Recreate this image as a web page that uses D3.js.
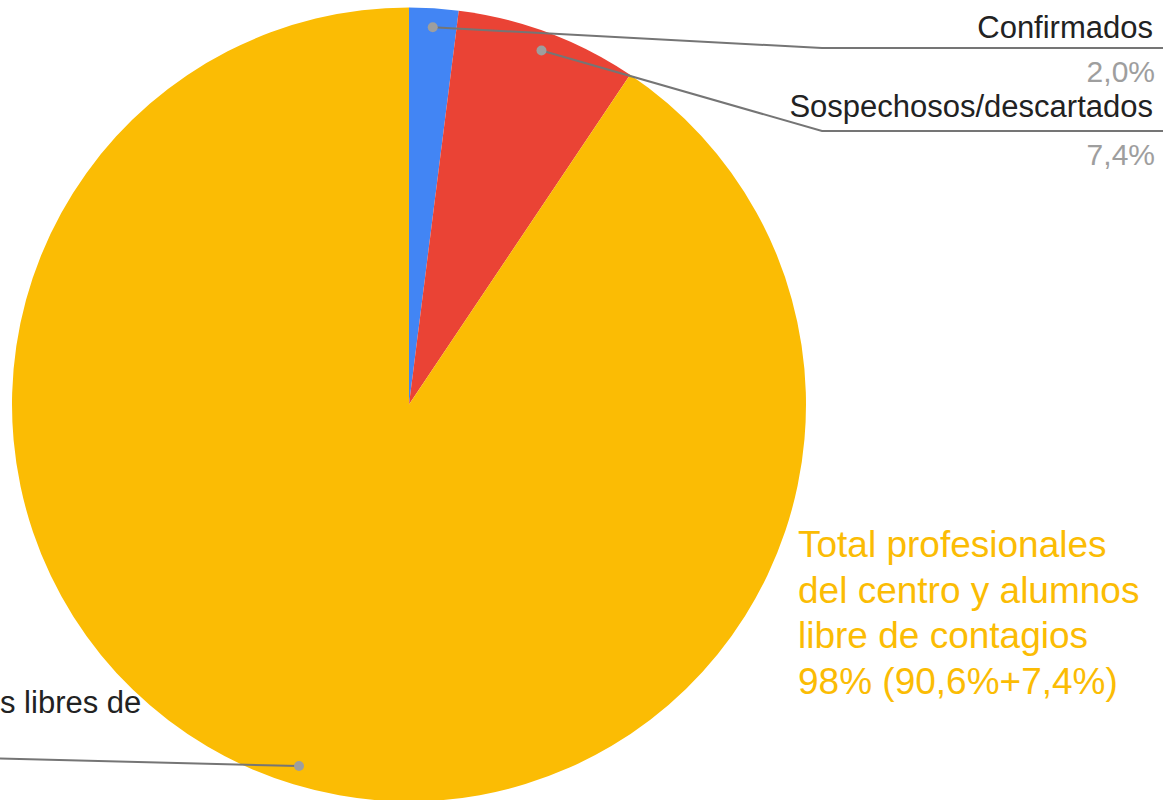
<!DOCTYPE html>
<html>
<head>
<meta charset="utf-8">
<script src="https://cdn.jsdelivr.net/npm/d3@7"></script>
<style>
  html, body { margin: 0; padding: 0; background: #fff; overflow: hidden; }
  svg { display: block; font-family: Arial, "Liberation Sans", sans-serif; }
</style>
</head>
<body>
<div id="chart"></div>
<script>
const labels = ["Confirmados", "Sospechosos/descartados", "Profesionales libres de contagio"];
const values = [2.0, 7.4, 90.6];
const valueLabels = ["2,0%", "7,4%", "90,6%"];
const colors = ["#4285f4", "#ea4335", "#fbbc04"];
const noteLines = ["Total profesionales", "del centro y alumnos", "libre de contagios", "98% (90,6%+7,4%)"];

const width = 1163, height = 800;
const cx = 409, cy = 404.5, radius = 397;

const svg = d3.select('#chart').append('svg')
  .attr('width', width)
  .attr('height', height);

const data = labels.map((l, i) => ({label: l, value: values[i], text: valueLabels[i], color: colors[i]}));

const pie = d3.pie().sort(null).value(d => d.value);
const arc = d3.arc().innerRadius(0).outerRadius(radius);
const dotArc = d3.arc().innerRadius(radius * 0.952).outerRadius(radius * 0.952);

const g = svg.append('g').attr('transform', `translate(${cx},${cy})`);
const arcs = pie(data);

g.selectAll('path.slice')
  .data(arcs)
  .enter().append('path')
  .attr('class', 'slice')
  .attr('d', arc)
  .attr('fill', d => d.data.color);

// leader line layout (elbow, line y, where the name sits)
const leaders = [
  {elbowX: 822, lineY: 48, endX: 1163, textX: 1153, nameY: 38, anchor: 'end', side: 'right'},
  {elbowX: 822, lineY: 131, endX: 1163, textX: 1153, nameY: 117, anchor: 'end', side: 'right'},
  {elbowX: -20, lineY: 758, endX: -60, textX: 0, nameY: 713, anchor: 'start', side: 'left'}
];

arcs.forEach((a, i) => {
  const [dx, dy] = dotArc.centroid(a);
  const px = cx + dx, py = cy + dy;
  const L = leaders[i];
  svg.append('polyline')
    .attr('points', `${px},${py} ${L.elbowX},${L.lineY} ${L.endX},${L.lineY}`)
    .attr('fill', 'none')
    .attr('stroke', '#757575')
    .attr('stroke-width', 2);
  svg.append('circle')
    .attr('cx', px).attr('cy', py).attr('r', 5)
    .attr('fill', '#9e9e9e');
  // the left label is cropped by the chart edge in the original
  svg.append('text')
    .attr('x', L.textX)
    .attr('y', L.nameY)
    .attr('text-anchor', L.anchor)
    .attr('font-size', 31)
    .attr('fill', '#222')
    .text(L.side === 'left' ? 's libres de' : a.data.label);
  if (L.side === 'right') {
    svg.append('text')
      .attr('x', L.textX + 2)
      .attr('y', L.lineY + 34)
      .attr('text-anchor', 'end')
      .attr('font-size', 30)
      .attr('fill', '#9e9e9e')
      .text(a.data.text);
  }
});

svg.append('text')
  .attr('font-size', 37)
  .attr('fill', '#fbbc04')
  .selectAll('tspan')
  .data(noteLines)
  .enter().append('tspan')
  .attr('x', 798)
  .attr('y', (d, i) => 557 + i * 45.5)
  .text(d => d);
</script>
</body>
</html>
